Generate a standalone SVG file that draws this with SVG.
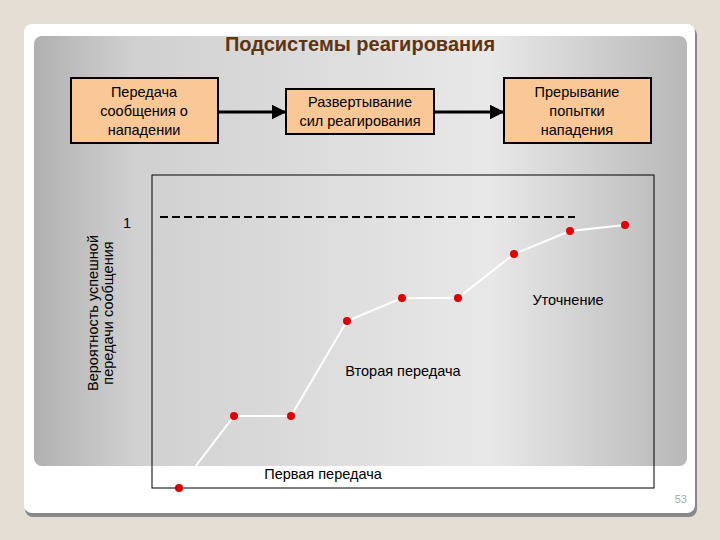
<svg xmlns="http://www.w3.org/2000/svg" width="720" height="540" viewBox="0 0 720 540">
<defs>
<linearGradient id="pg" x1="0" y1="0" x2="1" y2="0">
<stop offset="0" stop-color="#b0b0b0"/><stop offset="0.15" stop-color="#d0d0d0"/><stop offset="0.7" stop-color="#e8e8e8"/><stop offset="1" stop-color="#b8b8b8"/>
</linearGradient>
<marker id="ar" viewBox="0 0 10 10" refX="9" refY="5" markerWidth="5" markerHeight="5" orient="auto"><path d="M0,0L10,5L0,10z" fill="#000"/></marker>
<style>
.box{fill:#f9c896;stroke:#000;stroke-width:2}
.t{font-family:"Liberation Sans",Arial,sans-serif;font-size:14.5px;fill:#000;text-anchor:middle}
.pt{fill:#e00000}
</style>
</defs>
<rect width="720" height="540" fill="#e4ded4"/>
<rect x="25" y="27" width="672" height="490" rx="8" fill="#888"/>
<rect x="24" y="24" width="671" height="489" rx="8" fill="#fff"/>
<rect x="34" y="36" width="653" height="430" rx="8" fill="url(#pg)"/>
<text x="360" y="51" font-family="Liberation Sans,Arial,sans-serif" font-size="20" font-weight="bold" fill="#5e3412" text-anchor="middle">Подсистемы реагирования</text>
<g id="n1"><rect class="box" x="71" y="78" width="147" height="65"/><text class="t" x="144" y="97">Передача</text><text class="t" x="144" y="116">сообщения о</text><text class="t" x="144" y="135">нападении</text></g>
<g id="n2"><rect class="box" x="286" y="89" width="148" height="45"/><text class="t" x="360" y="107">Развертывание</text><text class="t" x="360" y="126">сил реагирования</text></g>
<g id="n3"><rect class="box" x="504" y="78" width="147" height="65"/><text class="t" x="577" y="97">Прерывание</text><text class="t" x="577" y="116">попытки</text><text class="t" x="577" y="135">нападения</text></g>
<g id="connectors" stroke="#000" stroke-width="3" marker-end="url(#ar)">
<line x1="218" y1="112" x2="285" y2="112"/>
<line x1="434" y1="112" x2="503" y2="112"/>
</g>
<rect x="152" y="175" width="502" height="313" fill="none" stroke="#000" stroke-width="1"/>
<line x1="160" y1="217" x2="575" y2="217" stroke="#000" stroke-width="2" stroke-dasharray="8,4"/>
<polyline points="179,488 234,416 291,416 347,321 402,298 458,298 514,254 570,231 625,225" fill="none" stroke="#fff" stroke-width="2"/>
<g class="pt"><circle cx="179" cy="488" r="4"/><circle cx="234" cy="416" r="4"/><circle cx="291" cy="416" r="4"/><circle cx="347" cy="321" r="4"/><circle cx="402" cy="298" r="4"/><circle cx="458" cy="298" r="4"/><circle cx="514" cy="254" r="4"/><circle cx="570" cy="231" r="4"/><circle cx="625" cy="225" r="4"/></g>
<text class="t" x="127" y="228">1</text>
<text class="t" x="568" y="305">Уточнение</text>
<text class="t" x="403" y="376">Вторая передача</text>
<text class="t" x="323" y="479">Первая передача</text>
<text class="t" transform="translate(98,313) rotate(-90)">Вероятность успешной</text>
<text class="t" transform="translate(113,313) rotate(-90)">передачи сообщения</text>
<text x="687" y="503" font-family="Liberation Sans,Arial,sans-serif" font-size="11" fill="#aaa" text-anchor="end">53</text>
</svg>
